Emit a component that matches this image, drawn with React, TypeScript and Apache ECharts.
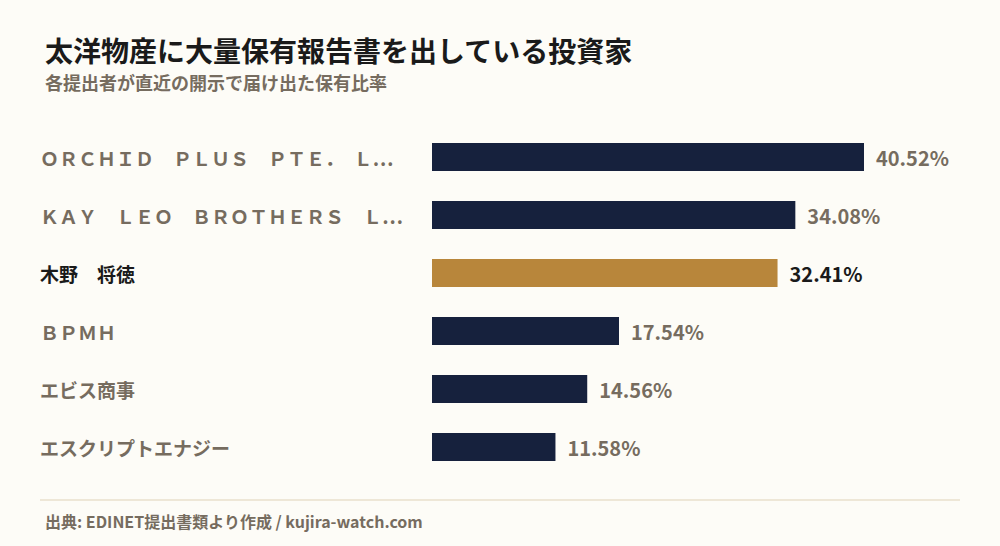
import { useEffect, useRef } from 'react';
import * as echarts from 'echarts';

const investors = [
    'ＯＲＣＨＩＤ　ＰＬＵＳ　ＰＴＥ．　Ｌ…',
    'ＫＡＹ　ＬＥＯ　ＢＲＯＴＨＥＲＳ　Ｌ…',
    '木野　将徳',
    'ＢＰＭＨ',
    'エビス商事',
    'エスクリプトエナジー',
];
const holdingRatios = [40.52, 34.08, 32.41, 17.54, 14.56, 11.58];
const highlighted = '木野　将徳';

const FONT = '"Noto Sans CJK JP", "Noto Sans", sans-serif';
const NAVY = '#16213d';
const GOLD = '#b8863b';
const MUTED = '#766c5f';
const DARK = '#1a1a1a';

export default function App() {
    const chartRef = useRef<HTMLDivElement>(null);

    useEffect(() => {
        if (!chartRef.current) return;
        const chart = echarts.init(chartRef.current, undefined, { renderer: 'svg' });

        const gridLeft = 432;
        const gridWidth = 528;
        // longest bar ends at x=864
        const axisMax = (holdingRatios[0] * gridWidth) / (864 - gridLeft);

        const option: echarts.EChartsOption = {
            animation: false,
            backgroundColor: '#fdfcf7',
            textStyle: { fontFamily: FONT },
            title: [
                {
                    text: '太洋物産に大量保有報告書を出している投資家',
                    left: 40,
                    top: 31,
                    textStyle: { fontSize: 28, fontWeight: 'bold', color: DARK, fontFamily: FONT },
                },
                {
                    text: '各提出者が直近の開示で届け出た保有比率',
                    left: 40,
                    top: 68,
                    textStyle: { fontSize: 18, fontWeight: 'bold', color: MUTED, fontFamily: FONT },
                },
                {
                    text: '出典: EDINET提出書類より作成 / kujira-watch.com',
                    left: 40,
                    top: 508,
                    textStyle: { fontSize: 16, fontWeight: 'bold', color: MUTED, fontFamily: FONT },
                },
            ],
            graphic: [
                {
                    type: 'line',
                    shape: { x1: 40, y1: 500, x2: 960, y2: 500 },
                    style: { stroke: '#e9e0cd', lineWidth: 1.5 },
                },
            ],
            grid: { left: gridLeft, width: gridWidth, top: 128, height: 348 },
            xAxis: {
                type: 'value',
                min: 0,
                max: axisMax,
                show: false,
            },
            yAxis: {
                type: 'category',
                inverse: true,
                data: investors,
                axisLine: { show: false },
                axisTick: { show: false },
                axisLabel: {
                    align: 'left',
                    margin: gridLeft - 40,
                    fontSize: 19,
                    fontWeight: 'bold',
                    color: MUTED,
                    fontFamily: FONT,
                    formatter: (v: string) => (v === highlighted ? `{hl|${v}}` : v),
                    rich: {
                        hl: { fontSize: 19, fontWeight: 'bold', color: DARK, fontFamily: FONT },
                    },
                },
            },
            series: [
                {
                    type: 'bar',
                    barWidth: 28,
                    data: holdingRatios.map((v, i) => ({
                        value: v,
                        itemStyle: { color: investors[i] === highlighted ? GOLD : NAVY },
                        label: {
                            color: investors[i] === highlighted ? DARK : MUTED,
                            fontWeight: investors[i] === highlighted ? 'bold' : 600,
                        },
                    })),
                    label: {
                        show: true,
                        position: 'right',
                        distance: 12,
                        fontSize: 20,
                        fontFamily: FONT,
                        formatter: (p: any) => `${p.value.toFixed(2)}%`,
                    },
                },
            ],
        };

        chart.setOption(option);
        return () => chart.dispose();
    }, []);

    return (
        <div
            ref={chartRef}
            style={{ position: 'absolute', left: 0, top: 0, width: 1000, height: 546 }}
        />
    );
}
